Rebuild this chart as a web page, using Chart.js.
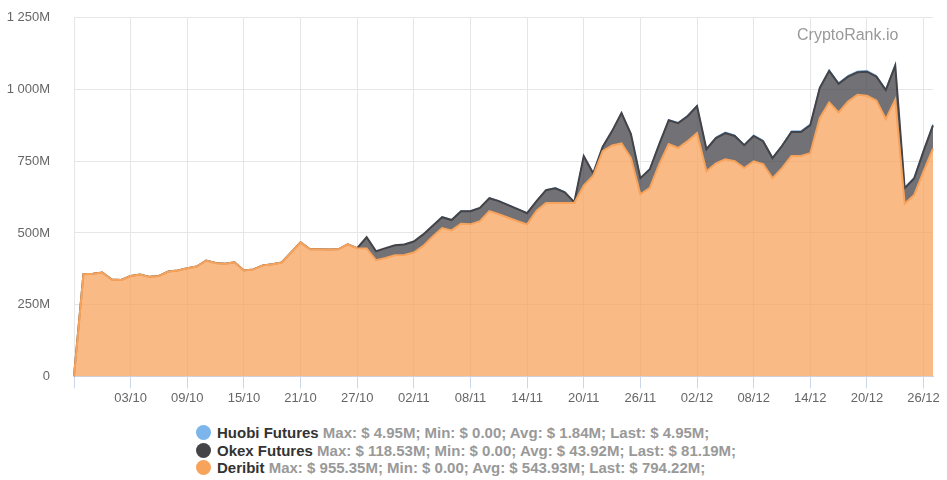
<!DOCTYPE html>
<html>
<head>
<meta charset="utf-8">
<script src="https://cdn.jsdelivr.net/npm/chart.js@4.4.1/dist/chart.umd.min.js"></script>
<style>
  body { margin: 0; background: #fff; font-family: "Liberation Sans", Arial, sans-serif; overflow: hidden; }
  #wrap { position: relative; width: 947px; height: 480px; overflow: hidden; }
  #box { position: absolute; left: 0; top: -14px; width: 947px; height: 424px; }
  #wm { position: absolute; left: 797px; top: 26px; font-size: 16px; color: #999; }
  #legend { position: absolute; left: 196px; top: 424px; font-size: 15px; font-weight: bold; line-height: 17.5px; }
  .row { white-space: nowrap; }
  .dot { display: inline-block; width: 15px; height: 15px; border-radius: 8px; vertical-align: -2px; margin-right: 6px; }
  .name { color: #333; }
  .stat { color: #999; }
</style>
</head>
<body>
<div id="wrap">
  <div id="box"><canvas id="chart"></canvas></div>
  <div id="wm">CryptoRank.io</div>
  <div id="legend"></div>
</div>
<script>
// dates 27/09 .. 27/12
const dates = [
  "27/09","28/09","29/09","30/09",
  "01/10","02/10","03/10","04/10","05/10","06/10","07/10","08/10","09/10","10/10",
  "11/10","12/10","13/10","14/10","15/10","16/10","17/10","18/10","19/10","20/10",
  "21/10","22/10","23/10","24/10","25/10","26/10","27/10","28/10","29/10","30/10","31/10",
  "01/11","02/11","03/11","04/11","05/11","06/11","07/11","08/11","09/11","10/11",
  "11/11","12/11","13/11","14/11","15/11","16/11","17/11","18/11","19/11","20/11",
  "21/11","22/11","23/11","24/11","25/11","26/11","27/11","28/11","29/11","30/11",
  "01/12","02/12","03/12","04/12","05/12","06/12","07/12","08/12","09/12","10/12",
  "11/12","12/12","13/12","14/12","15/12","16/12","17/12","18/12","19/12","20/12",
  "21/12","22/12","23/12","24/12","25/12","26/12","27/12"
];

// values in millions USD
const deribit = [
  0, 356, 358, 362,
  338, 336, 350, 355, 347, 350, 366, 369, 377, 383,
  404, 395, 393, 398, 369, 373, 387, 391, 397, 432,
  467, 443, 443, 442, 443, 460, 447, 446, 405, 413, 422,
  423, 432, 455, 488, 517, 509, 532, 530, 541, 576,
  565, 553, 541, 530, 578, 604, 604, 604, 605, 665,
  700, 785, 805, 812, 762, 635, 657, 740, 810, 796,
  820, 848, 715, 743, 757, 750, 726, 750, 740, 691,
  726, 768, 768, 778, 900, 955, 920, 958, 982, 978,
  962, 897, 965, 602, 632, 715, 794
];

const okex = [
  0, 0, 0, 0,
  0, 0, 0, 0, 0, 0, 0, 0, 0, 0,
  0, 0, 0, 0, 0, 0, 0, 0, 0, 0,
  0, 0, 0, 0, 0, 0, 0, 39, 31, 34, 35,
  37, 38, 40, 37, 38, 36, 44, 46, 46, 45,
  46, 44, 42, 39, 33, 45, 52, 38, 2, 103,
  8, 15, 50, 106, 83, 56, 65, 70, 83, 87,
  87, 94, 77, 88, 91, 88, 80, 88, 80, 70,
  77, 84, 84, 98, 105, 110, 100, 87, 78, 84,
  83, 101, 118.5, 54, 58, 70, 81.2
];

const huobi = [
  0, 0, 0, 0,
  0, 0, 0, 0, 0, 0, 0, 0, 0, 0,
  0, 0, 0, 0, 0, 0, 0, 0, 0, 0,
  0, 0, 0, 0, 0, 0, 0, 0, 0, 0, 0,
  1.5, 1.6, 1.8, 1.7, 1.9, 2.0, 2.1, 1.9, 2.0, 2.2,
  2.1, 2.0, 1.9, 1.8, 2.0, 2.2, 2.3, 2.1, 1.6, 2.4,
  2.0, 2.2, 2.3, 2.6, 2.4, 2.1, 2.2, 2.3, 2.4, 2.5,
  3.6, 3.8, 3.5, 3.7, 3.9, 3.8, 3.6, 3.9, 3.8, 3.5,
  3.7, 4.0, 4.1, 4.2, 4.5, 4.6, 4.3, 4.4, 4.5, 4.6,
  4.4, 4.3, 4.8, 3.9, 4.1, 4.5, 4.95
];

const seriesNames = ["Huobi Futures", "Okex Futures", "Deribit"];
const seriesColors = ["#7cb5ec", "#434348", "#f7a35c"];
const seriesStats = [
  "Max: $ 4.95M; Min: $ 0.00; Avg: $ 1.84M; Last: $ 4.95M;",
  "Max: $ 118.53M; Min: $ 0.00; Avg: $ 43.92M; Last: $ 81.19M;",
  "Max: $ 955.35M; Min: $ 0.00; Avg: $ 543.93M; Last: $ 794.22M;"
];

const yTicks = [0, 250, 500, 750, 1000, 1250];

// legend below the chart
const legendEl = document.getElementById("legend");
seriesNames.forEach((name, i) => {
  const row = document.createElement("div");
  row.className = "row";
  row.innerHTML = `<span class="dot" style="background:${seriesColors[i]}"></span>` +
    `<span class="name">${name}</span> <span class="stat">${seriesStats[i]}</span>`;
  legendEl.appendChild(row);
});

const FONT = "'Liberation Sans', Arial, sans-serif";

new Chart(document.getElementById("chart"), {
  type: "line",
  data: {
    labels: dates,
    datasets: [
      {
        label: "Deribit",
        data: deribit,
        borderColor: "#f7a35c",
        backgroundColor: "rgba(247,163,92,0.75)",
        borderWidth: 2,
        fill: "origin",
        pointRadius: 0,
        tension: 0
      },
      {
        label: "Okex Futures",
        data: okex,
        borderColor: "#434348",
        backgroundColor: "rgba(67,67,72,0.75)",
        borderWidth: 2,
        fill: "-1",
        pointRadius: 0,
        tension: 0
      },
      {
        label: "Huobi Futures",
        data: huobi,
        borderColor: "#7cb5ec",
        backgroundColor: "rgba(124,181,236,0.75)",
        borderWidth: 1,
        fill: "-1",
        pointRadius: 0,
        tension: 0
      }
    ]
  },
  options: {
    responsive: true,
    maintainAspectRatio: false,
    animation: false,
    layout: { padding: { left: 5, right: 14, top: 3, bottom: 2 } },
    plugins: {
      legend: { display: false },
      tooltip: { enabled: false }
    },
    scales: {
      x: {
        offset: false,
        grid: {
          color: "#e6e6e6",
          tickColor: "#ccd6eb",
          tickLength: 12
        },
        border: { color: "#ccd6eb", width: 1 },
        ticks: {
          autoSkip: false,
          maxRotation: 0,
          padding: 2,
          color: "#666",
          font: { family: FONT, size: 13 },
          callback(value, index) {
            if (index === 0) return "";
            if (index >= 6 && (index - 6) % 6 === 0) return this.getLabelForValue(value);
            return null;
          }
        }
      },
      y: {
        stacked: true,
        min: 0,
        max: 1250,
        afterBuildTicks(axis) {
          axis.ticks = yTicks.map(v => ({ value: v }));
        },
        afterFit(axis) {
          axis.width = 69;
        },
        grid: { color: "#e6e6e6", drawTicks: false },
        border: { display: false },
        ticks: {
          padding: 24,
          color: "#666",
          font: { family: FONT, size: 13 },
          callback(v) {
            if (v === 0) return "0";
            return String(v).replace(/\B(?=(\d{3})+(?!\d))/g, " ") + "M";
          }
        }
      }
    }
  }
});
</script>
</body>
</html>
